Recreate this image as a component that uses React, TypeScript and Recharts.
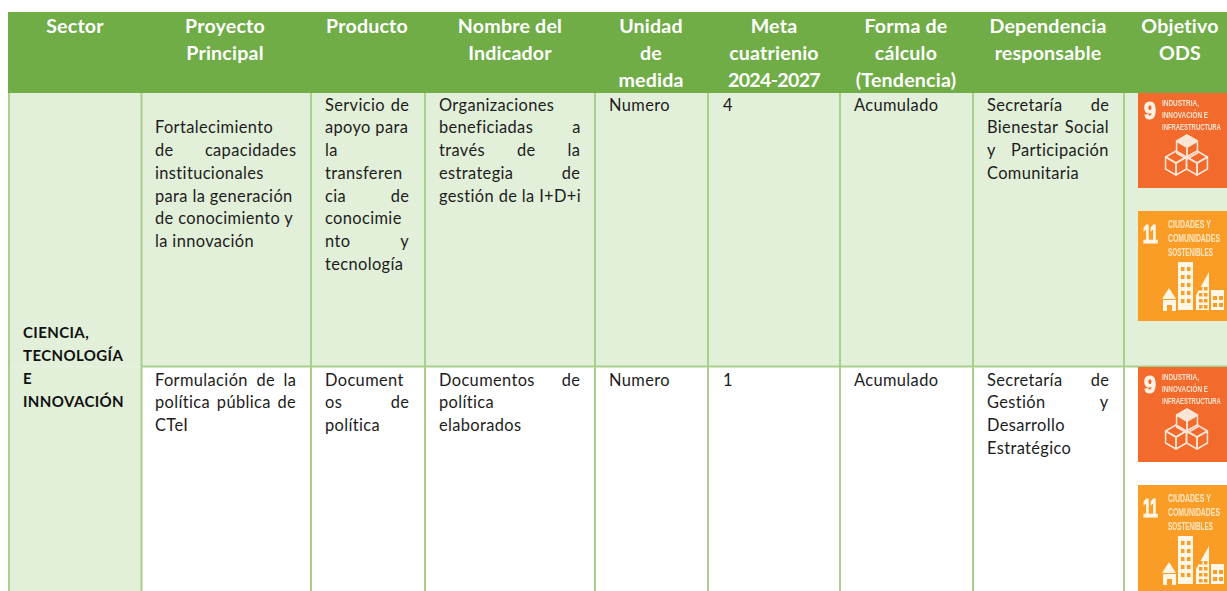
import React from "react";
import { ScatterChart, Scatter, XAxis, YAxis, ReferenceArea, ReferenceLine } from "recharts";

const W = 1227;
const H = 591;
const FONT = "Lato, Carlito, sans-serif";
const BODY_SIZE = 16.4;
const BODY_TRACK = 0.38;
const HEAD_SIZE = 19.6;
const HEAD_TRACK = 0.2;
const DIGIT_TRACK = -0.7;
const SECTOR_SIZE = 15;
const SECTOR_TRACK = 0.4;

const columnEdges = [9, 141.5, 311, 425, 595, 708, 840, 973, 1124];
const columnEnd = [131, 296, 409, 580, 690, 820, 960, 1109, 1227];
const headerCentres = [75, 225, 367, 510, 651, 774, 906, 1048, 1180];
const headerLabels = [
  ["Sector"],
  ["Proyecto", "Principal"],
  ["Producto"],
  ["Nombre del", "Indicador"],
  ["Unidad", "de", "medida"],
  ["Meta", "cuatrienio", "2024-2027"],
  ["Forma de", "cálculo", "(Tendencia)"],
  ["Dependencia", "responsable"],
  ["Objetivo", "ODS"],
];
const sectorLines = ["CIENCIA,", "TECNOLOGÍA", "E", "INNOVACIÓN"];

// A "~" at the end of a line marks it as justified to the cell's width.
const row1Cells = [
  ["", "Fortalecimiento", "de capacidades~", "institucionales", "para la generación", "de conocimiento y", "la innovación"],
  ["Servicio de~", "apoyo para", "la", "transferen", "cia de~", "conocimie", "nto y~", "tecnología"],
  ["Organizaciones", "beneficiadas a~", "través de la~", "estrategia de~", "gestión de la I+D+i"],
  ["Numero"],
  ["4"],
  ["Acumulado"],
  ["Secretaría de~", "Bienestar Social~", "y Participación~", "Comunitaria"],
];
const row2Cells = [
  ["Formulación de la~", "política pública de~", "CTeI"],
  ["Document", "os de~", "política"],
  ["Documentos de~", "política", "elaborados"],
  ["Numero"],
  ["1"],
  ["Acumulado"],
  ["Secretaría de~", "Gestión y~", "Desarrollo", "Estratégico"],
];
const bodyColumnStart = [155, 325, 439, 609, 723, 854, 987];
const goalsTitles: Record<string, string[]> = {
  "9": ["INDUSTRIA,", "INNOVACIÓN E", "INFRAESTRUCTURA"],
  "11": ["CIUDADES Y", "COMUNIDADES", "SOSTENIBLES"],
};
const goalPlacements = [
  { x: 1138, y: 93, goal: "9" },
  { x: 1138, y: 211, goal: "11" },
  { x: 1138, y: 367, goal: "9" },
  { x: 1138, y: 485, goal: "11" },
];

const HEAD_TOP = 12;
const HEAD_BOTTOM = 93;
const ROW_SPLIT = 366.5;
const GREEN = "#70AD47";
const LIGHT = "#E2EFD9";
const BORDER = "#A8D08D";
const INK = "#1c1c1c";

let ctx: CanvasRenderingContext2D | null = null;
function measure(text: string, font: string) {
  if (!ctx) ctx = document.createElement("canvas").getContext("2d");
  ctx!.font = font;
  return ctx!.measureText(text).width;
}

type TextPoint = { x: number; y: number; text: string; anchor: string; weight: number; size: number; track: number; fill: string; justifyCol: number };

const textPoints: TextPoint[] = [];
headerLabels.forEach((lines, c) =>
  lines.forEach((text, i) =>
    textPoints.push({ x: headerCentres[c], y: 33 + i * 26.8, text, anchor: "middle", weight: 700, size: HEAD_SIZE, track: /^\d/.test(text) ? DIGIT_TRACK : HEAD_TRACK, fill: "#ffffff", justifyCol: -1 })
  )
);
sectorLines.forEach((text, i) =>
  textPoints.push({ x: 23, y: 338 + i * 23, text, anchor: "start", weight: 700, size: SECTOR_SIZE, track: SECTOR_TRACK, fill: "#111111", justifyCol: -1 })
);
function addBody(cells: string[][], firstBaseline: number) {
  cells.forEach((lines, c) =>
    lines.forEach((raw, i) => {
      if (!raw) return;
      const justify = raw.endsWith("~");
      const text = justify ? raw.slice(0, -1) : raw;
      textPoints.push({
        x: bodyColumnStart[c],
        y: firstBaseline + i * 22.75,
        text,
        anchor: "start",
        weight: 400,
        size: BODY_SIZE,
        track: BODY_TRACK,
        fill: INK,
        justifyCol: justify ? c : -1,
      });
    })
  );
}
addBody(row1Cells, 110.5);
addBody(row2Cells, 385.5);

function TextMark(props: any) {
  const { cx, cy, payload } = props;
  const p = payload as TextPoint;
  let wordSpacing = 0;
  if (p.justifyCol >= 0) {
    const c = p.justifyCol;
    const font = `${p.weight} ${p.size}px Lato`;
    const avail = columnEnd[c + 1] - bodyColumnStart[c];
    const gaps = p.text.split(" ").length - 1;
    const natural = measure(p.text, font) + (p.text.length - 1) * p.track;
    wordSpacing = (avail - natural) / gaps;
  }
  return (
    <text x={cx} y={cy} textAnchor={p.anchor as any} fill={p.fill} fontFamily={FONT} fontWeight={p.weight} fontSize={p.size} style={{ wordSpacing, letterSpacing: p.track }}>
      {p.text}
    </text>
  );
}

function Cube({ cx, cy, r, solid }: { cx: number; cy: number; r: number; solid?: boolean }) {
  const dx = r * 0.87;
  const dy = r * 0.5;
  const stroke = "#FBE6D6";
  return (
    <g fill="none" stroke={stroke} strokeWidth={1.5} strokeLinejoin="round">
      <polygon points={`${cx},${cy - r} ${cx + dx},${cy - dy} ${cx},${cy} ${cx - dx},${cy - dy}`} fill={solid ? "#FBE6D6" : "none"} />
      <polygon points={`${cx - dx},${cy - dy} ${cx},${cy} ${cx},${cy + r} ${cx - dx},${cy + dy}`} />
      <polygon points={`${cx + dx},${cy - dy} ${cx},${cy} ${cx},${cy + r} ${cx + dx},${cy + dy}`} />
    </g>
  );
}

const CONDENSED = "'Liberation Sans', Arial, sans-serif";

function Squeezed({ x, y, text, target, size, fill, heavy }: { x: number; y: number; text: string; target: number; size: number; fill: string; heavy?: boolean }) {
  const sx = target / measure(text, `700 ${size}px 'Liberation Sans'`);
  return (
    <text transform={`translate(${x},${y}) scale(${sx},1)`} fill={fill} stroke={heavy ? fill : "none"} strokeWidth={heavy ? 1.1 : 0} fontFamily={CONDENSED} fontWeight={700} fontSize={size}>
      {text}
    </text>
  );
}

function GoalIcon(props: any) {
  const { cx, cy, payload } = props;
  const nine = payload.goal === "9";
  const titles = goalsTitles[payload.goal];
  const ink = nine ? "#FCE3D0" : "#FDE7C4";
  return (
    <g transform={`translate(${cx},${cy})`}>
      <rect x={0} y={0} width={100} height={nine ? 95 : 110} fill={nine ? "#F26A2C" : "#F99D27"} />
      <g style={{ filter: "blur(0.4px)" }}>
        {nine ? (
          <Squeezed x={6} y={26} text="9" target={12} size={24} fill="#FFF3E6" heavy />
        ) : (
          <Squeezed x={5} y={32} text="11" target={15} size={26} fill="#FFF6E6" heavy />
        )}
        {titles.map((t, i) => (
          <Squeezed
            key={t}
            x={nine ? 24 : 30}
            y={nine ? 13 + i * 12.2 : 17 + i * 14}
            text={t}
            target={nine ? [37, 46, 59][i] : [43, 52, 45][i]}
            size={nine ? 9.5 : 10}
            fill={ink}
          />
        ))}
        {nine ? (
          <g>
            <Cube cx={49} cy={54} r={12} solid />
            <Cube cx={38} cy={70} r={12} />
            <Cube cx={59} cy={70} r={12} />
          </g>
        ) : (
          <g fill="#FFF6E6">
            <polygon points="24,88 31,77 38,88" />
            <path d="M25 89h13v11h-4v-6h-5v6h-4z" />
            <path d="M40 51h15v48H40z" />
            <path d="M58 84 71 61v38H58z" />
            <path d="M73 79h13v20H73z" />
            <g fill="#F99D27">
              {[56, 64, 72, 80, 88].map((y) => (
                <g key={y}>
                  <rect x={43} y={y} width={3.5} height={4} />
                  <rect x={49} y={y} width={3.5} height={4} />
                </g>
              ))}
              {[76, 82, 88, 94].map((y) => (
                <g key={y}>
                  <rect x={61} y={y} width={3.5} height={3.5} />
                  <rect x={66} y={y} width={3.5} height={3.5} />
                </g>
              ))}
              {[85, 92].map((y) => (
                <g key={y}>
                  <rect x={75} y={y} width={4} height={4} />
                  <rect x={81} y={y} width={4} height={4} />
                </g>
              ))}
            </g>
          </g>
        )}
      </g>
    </g>
  );
}

const renderText = (p: any) => <TextMark {...p} />;
const renderIcon = (p: any) => <GoalIcon {...p} />;

export default function App() {
  return (
    <div style={{ position: "absolute", left: 0, top: 0, width: W, height: H, overflow: "hidden", background: "#fff" }}>
      <ScatterChart width={W} height={H} margin={{ top: 0, right: 0, bottom: 0, left: 0 }}>
        <XAxis type="number" dataKey="x" domain={[0, W]} hide allowDataOverflow />
        <YAxis type="number" dataKey="y" domain={[0, H]} reversed hide allowDataOverflow />

        <ReferenceArea x1={8} x2={W} y1={HEAD_TOP} y2={HEAD_BOTTOM} fill={GREEN} fillOpacity={1} stroke="none" />
        <ReferenceArea x1={9} x2={W} y1={HEAD_BOTTOM} y2={ROW_SPLIT} fill={LIGHT} fillOpacity={1} stroke="none" />
        <ReferenceArea x1={9} x2={columnEdges[1]} y1={ROW_SPLIT} y2={H} fill={LIGHT} fillOpacity={1} stroke="none" />

        {columnEdges.map((x) => (
          <ReferenceLine key={x} segment={[{ x, y: HEAD_BOTTOM }, { x, y: H }]} stroke={BORDER} strokeWidth={2} />
        ))}
        <ReferenceLine segment={[{ x: columnEdges[1], y: ROW_SPLIT }, { x: W, y: ROW_SPLIT }]} stroke={BORDER} strokeWidth={2} />

        <Scatter data={goalPlacements} shape={renderIcon} isAnimationActive={false} />
        <Scatter data={textPoints} shape={renderText} isAnimationActive={false} />
      </ScatterChart>
    </div>
  );
}
